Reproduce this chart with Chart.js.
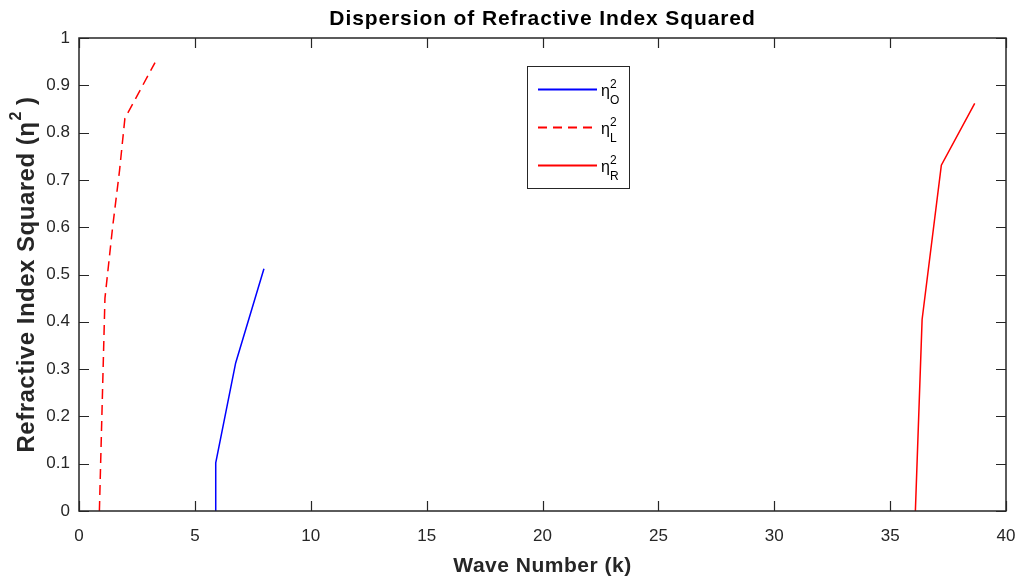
<!DOCTYPE html>
<html>
<head>
<meta charset="utf-8">
<script src="https://cdn.jsdelivr.net/npm/chart.js@4"></script>
<style>
  html, body { margin: 0; padding: 0; background: #fff; }
  #wrap { width: 1019px; height: 578px; }
</style>
</head>
<body>
<div id="wrap"><canvas id="chart" width="1019" height="578"></canvas></div>
<script>
// Ordinary wave (eta_O^2)
const kO = [5.9, 5.9, 6.76, 7.98];
const nO = [0, 0.102, 0.313, 0.512];
// Left-hand wave (eta_L^2)
const kL = [0.88, 1.12, 1.45, 1.75, 1.98, 3.28];
const nL = [0, 0.45, 0.6, 0.72, 0.83, 0.948];
// Right-hand wave (eta_R^2)
const kR = [36.09, 36.38, 37.21, 38.65];
const nR = [0, 0.405, 0.731, 0.862];

const xTicks = [0, 5, 10, 15, 20, 25, 30, 35, 40];
const yTicks = [0, 0.1, 0.2, 0.3, 0.4, 0.5, 0.6, 0.7, 0.8, 0.9, 1];

const TITLE = 'Dispersion of Refractive Index Squared';
const X_TITLE = 'Wave Number (k)';
const Y_TITLE = 'Refractive Index Squared (\u03b7';

const legendItems = [
  { sub: 'O', color: '#0000ff', dash: [] },
  { sub: 'L', color: '#ff0000', dash: [9, 6] },
  { sub: 'R', color: '#ff0000', dash: [] }
];

const AXIS = '#262626';
const FONT = "'Liberation Sans', Arial, Helvetica, sans-serif";

function toPoints(xs, ys) {
  return xs.map((x, i) => ({ x: x, y: ys[i] }));
}

// frame with inward ticks, titles, legend box
const framePlugin = {
  id: 'frame',
  afterDraw(chart) {
    const ctx = chart.ctx;
    const a = chart.chartArea;
    const xs = chart.scales.x;
    const ys = chart.scales.y;
    const cx = (a.left + a.right) / 2;
    const cy = (a.top + a.bottom) / 2;
    const len = 10;
    ctx.save();
    ctx.strokeStyle = AXIS;
    ctx.lineWidth = 1.5;
    ctx.strokeRect(a.left, a.top, a.right - a.left, a.bottom - a.top);
    ctx.lineWidth = 1.2;
    ctx.beginPath();
    xTicks.forEach(v => {
      const px = Math.round(xs.getPixelForValue(v)) + 0.5;
      ctx.moveTo(px, a.bottom); ctx.lineTo(px, a.bottom - len);
      ctx.moveTo(px, a.top); ctx.lineTo(px, a.top + len);
    });
    yTicks.forEach(v => {
      const py = Math.round(ys.getPixelForValue(v)) + 0.5;
      ctx.moveTo(a.left, py); ctx.lineTo(a.left + len, py);
      ctx.moveTo(a.right, py); ctx.lineTo(a.right - len, py);
    });
    ctx.stroke();

    // chart title and x title, centred on the axes box
    ctx.textBaseline = 'alphabetic';
    ctx.textAlign = 'center';
    ctx.fillStyle = '#000';
    ctx.font = 'bold 21px ' + FONT;
    ctx.letterSpacing = '0.9px';
    ctx.fillText(TITLE, cx, 25);
    ctx.fillStyle = AXIS;
    ctx.letterSpacing = '0.5px';
    ctx.fillText(X_TITLE, cx, 572);

    // y title with raised 2
    ctx.textAlign = 'left';
    ctx.font = 'bold 24px ' + FONT;
    const w1 = ctx.measureText(Y_TITLE).width;
    const w3 = ctx.measureText(' )').width;
    ctx.font = 'bold 16px ' + FONT;
    const w2 = ctx.measureText('2').width;
    const x0 = -(w1 + w2 + w3) / 2;
    ctx.translate(34, cy);
    ctx.rotate(-Math.PI / 2);
    ctx.font = 'bold 24px ' + FONT;
    ctx.fillText(Y_TITLE, x0, 0);
    ctx.font = 'bold 16px ' + FONT;
    ctx.fillText('2', x0 + w1 + 1, -13);
    ctx.font = 'bold 24px ' + FONT;
    ctx.fillText(' )', x0 + w1 + w2, 0);
    ctx.setTransform(1, 0, 0, 1, 0, 0);
    ctx.letterSpacing = '0px';

    // legend
    const bx = 527, by = 66, bw = 102, bh = 122;
    ctx.fillStyle = '#fff';
    ctx.fillRect(bx, by, bw, bh);
    ctx.strokeStyle = AXIS;
    ctx.lineWidth = 1;
    ctx.strokeRect(bx + 0.5, by + 0.5, bw, bh);
    legendItems.forEach((item, i) => {
      const y = 89.5 + i * 38;
      ctx.strokeStyle = item.color;
      ctx.lineWidth = 2;
      ctx.setLineDash(item.dash);
      ctx.beginPath();
      ctx.moveTo(538, y); ctx.lineTo(597, y);
      ctx.stroke();
      ctx.setLineDash([]);
      ctx.fillStyle = '#000';
      ctx.font = '16px ' + FONT;
      ctx.fillText('\u03b7', 601, y + 6);
      ctx.font = '12px ' + FONT;
      ctx.fillText('2', 610, y - 2);
      ctx.fillText(item.sub, 610, y + 14);
    });
    ctx.restore();
  }
};

new Chart(document.getElementById('chart'), {
  type: 'scatter',
  data: {
    datasets: [
      {
        label: 'ηO²',
        data: toPoints(kO, nO),
        showLine: true,
        borderColor: '#0000ff',
        borderWidth: 1.5,
        pointRadius: 0
      },
      {
        label: 'ηL²',
        data: toPoints(kL, nL),
        showLine: true,
        borderColor: '#ff0000',
        borderWidth: 1.5,
        borderDash: [10, 6],
        pointRadius: 0
      },
      {
        label: 'ηR²',
        data: toPoints(kR, nR),
        showLine: true,
        borderColor: '#ff0000',
        borderWidth: 1.5,
        pointRadius: 0
      }
    ]
  },
  options: {
    responsive: false,
    animation: false,
    layout: { padding: { left: 0, right: 13, top: 38, bottom: 0 } },
    plugins: {
      legend: { display: false },
      tooltip: { enabled: false },
      title: { display: false }
    },
    scales: {
      x: {
        type: 'linear',
        min: 0,
        max: 40,
        afterBuildTicks: s => { s.ticks = xTicks.map(v => ({ value: v })); },
        afterFit: s => { s.height = 67; s.paddingLeft = 0; s.paddingRight = 0; },
        grid: { display: false },
        border: { display: false },
        ticks: { color: AXIS, font: { family: FONT, size: 17 }, padding: 7, maxRotation: 0 },
        title: { display: false }
      },
      y: {
        type: 'linear',
        min: 0,
        max: 1,
        afterBuildTicks: s => { s.ticks = yTicks.map(v => ({ value: v })); },
        afterFit: s => { s.width = 79; s.paddingTop = 0; s.paddingBottom = 0; },
        grid: { display: false },
        border: { display: false },
        ticks: {
          color: AXIS,
          font: { family: FONT, size: 17 },
          padding: 1,
          callback: v => String(Math.round(v * 10) / 10)
        },
        title: { display: false }
      }
    }
  },
  plugins: [framePlugin]
});
</script>
</body>
</html>
